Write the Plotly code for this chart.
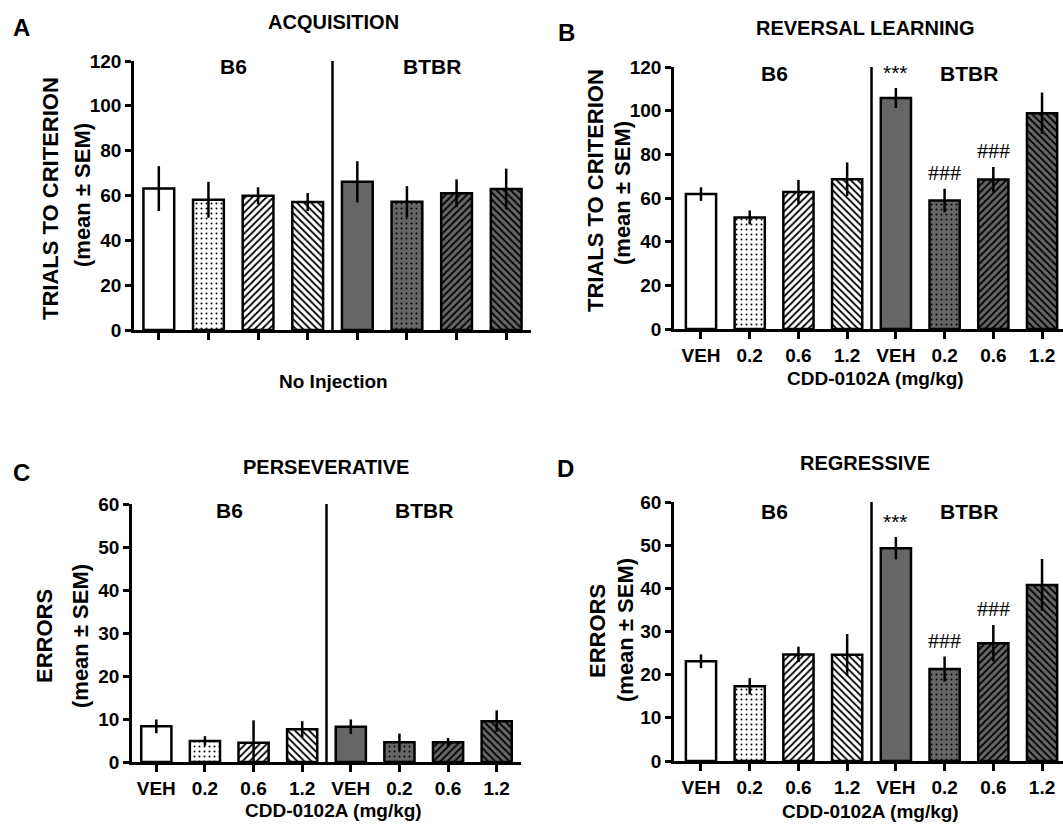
import plotly.graph_objects as go

W, H = 1063, 826
FONT = "Liberation Sans, Arial, sans-serif"

# ---------------- data ----------------
strains = ["B6", "BTBR"]
doses = ["VEH", "0.2", "0.6", "1.2"]
tick_labels = doses + doses

acq_mean = [63.1, 58.1, 59.9, 57.1, 66.1, 57.2, 61.0, 62.9]
acq_sem = [10.0, 8.0, 3.8, 4.0, 9.2, 7.0, 6.2, 9.1]

rev_mean = [61.8, 51.1, 62.8, 68.6, 105.8, 58.8, 68.5, 98.8]
rev_sem = [3.1, 3.2, 5.5, 7.7, 4.6, 5.4, 5.7, 9.5]

pers_mean = [8.3, 4.9, 4.5, 7.6, 8.2, 4.6, 4.6, 9.5]
pers_sem = [1.6, 1.1, 5.2, 1.9, 1.7, 2.0, 1.0, 2.5]

regr_mean = [23.1, 17.3, 24.7, 24.6, 49.3, 21.3, 27.3, 40.8]
regr_sem = [1.6, 1.9, 1.8, 4.8, 2.6, 2.9, 4.2, 6.0]

rev_marks = ["", "", "", "", "***", "###", "###", ""]
regr_marks = ["", "", "", "", "***", "###", "###", ""]

trials_ticks = [0, 20, 40, 60, 80, 100, 120]
errors_ticks = [0, 10, 20, 30, 40, 50, 60]

# ---------------- styling ----------------
shapes_pat = ["", ".", "/", "\\", "", ".", "/", "\\"]
WHITE, GREY = "#ffffff", "#666666"
bg = [WHITE] * 4 + [GREY] * 4
psize = [5, 5, 5, 5, 5, 5, 5, 5]
psol = [0.3, 0.12, 0.35, 0.35, 0.3, 0.12, 0.35, 0.35]


def px2x(px):
    return px / W


def px2y(py):
    return 1 - py / H


def b(t):
    return "<b>" + t + "</b>"


panels = [
    dict(name="A", title="ACQUISITION", mean=acq_mean, sem=acq_sem, marks=None,
         x=(134, 531), y=(61, 330), xr=[-0.5, 7.5], yr=[0, 120], yt=trials_ticks,
         ticklabels=False, ytitle=("TRIALS TO CRITERION", "(mean ± SEM)"),
         xtitle="No Injection", strain_y=117.5),
    dict(name="B", title="REVERSAL LEARNING", mean=rev_mean, sem=rev_sem, marks=rev_marks,
         x=(674, 1063), y=(67, 329), xr=[-0.554, 7.43], yr=[0, 120], yt=trials_ticks,
         ticklabels=True, ytitle=("TRIALS TO CRITERION", "(mean ± SEM)"),
         xtitle="CDD-0102A (mg/kg)", strain_y=117.2),
    dict(name="C", title="PERSEVERATIVE", mean=pers_mean, sem=pers_sem, marks=None,
         x=(132, 521), y=(504, 762), xr=[-0.5, 7.5], yr=[0, 60], yt=errors_ticks,
         ticklabels=True, ytitle=("ERRORS", "(mean ± SEM)"),
         xtitle="CDD-0102A (mg/kg)", strain_y=58.4),
    dict(name="D", title="REGRESSIVE", mean=regr_mean, sem=regr_sem, marks=regr_marks,
         x=(674, 1063), y=(502, 761), xr=[-0.554, 7.43], yr=[0, 60], yt=errors_ticks,
         ticklabels=True, ytitle=("ERRORS", "(mean ± SEM)"),
         xtitle="CDD-0102A (mg/kg)", strain_y=57.9),
]

letter_pos = {"A": (21, 27), "B": (566, 33), "C": (21, 472), "D": (565, 468)}
title_pos = {"A": (333, 22), "B": (865, 28), "C": (326, 467), "D": (865, 463)}
ytitle_pos = {"A": ((51, 199), (82, 195)), "B": ((596, 191), (622, 193)),
              "C": ((44, 636), (80, 636)), "D": ((597, 631), (625, 630))}
xtitle_pos = {"A": (333, 381), "B": (875, 378), "C": (333, 810), "D": (870, 811)}

fig = go.Figure()
annotations = []
shapes = []
xpos = list(range(8))

for i, p in enumerate(panels):
    k = "" if i == 0 else str(i + 1)
    xa, ya = "x" + k, "y" + k
    for j in xpos:
        pat = dict(shape=shapes_pat[j], bgcolor=bg[j], fgcolor="#000000",
                   size=psize[j], solidity=psol[j], fillmode="replace") if shapes_pat[j] else dict(shape="")
        fig.add_trace(go.Bar(
            x=[j], y=[p["mean"][j]], xaxis=xa, yaxis=ya, width=0.62,
            marker=dict(color=bg[j], line=dict(color="black", width=2.5), pattern=pat),
            error_y=dict(type="data", array=[p["sem"][j]], visible=True, color="black",
                         thickness=2.5, width=0),
            showlegend=False, hoverinfo="skip",
        ))
    fig.update_layout(**{
        "xaxis" + k: dict(domain=[px2x(p["x"][0]), px2x(p["x"][1])], range=p["xr"],
                          anchor=ya, showline=True, linecolor="black", linewidth=2.5,
                          ticks="outside", ticklen=7, tickwidth=2.5, tickcolor="black",
                          tickmode="array", tickvals=xpos,
                          ticktext=[b(t) for t in tick_labels] if p["ticklabels"] else [""] * 8,
                          showticklabels=p["ticklabels"], showgrid=False, zeroline=False,
                          automargin=False,
                          tickfont=dict(family=FONT, size=19, color="black"),
                          fixedrange=True),
        "yaxis" + k: dict(domain=[px2y(p["y"][1]), px2y(p["y"][0])], range=p["yr"],
                          anchor=xa, showline=True, linecolor="black", linewidth=2.5,
                          ticks="outside", ticklen=6, tickwidth=2.5, tickcolor="black",
                          tickmode="array", tickvals=p["yt"],
                          ticktext=[b(str(v)) for v in p["yt"]],
                          showgrid=False, zeroline=False, automargin=False,
                          tickfont=dict(family=FONT, size=19, color="black"),
                          fixedrange=True),
    })
    shapes.append(dict(type="line", xref=xa, yref=ya, x0=3.5, x1=3.5,
                       y0=p["yr"][0], y1=p["yr"][1], line=dict(color="black", width=2.5)))
    for sx, s in zip([1.5, 5.5], strains):
        annotations.append(dict(x=sx, y=p["strain_y"], xref=xa, yref=ya, text=b(s),
                                showarrow=False, xanchor="center", yanchor="middle",
                                font=dict(family=FONT, size=21, color="black")))
    if p["marks"]:
        for j, m in enumerate(p["marks"]):
            if m:
                is_hash = m.startswith("#")
                annotations.append(dict(x=j, y=p["mean"][j] + p["sem"][j], xref=xa, yref=ya,
                                        text=m, showarrow=False, xanchor="center",
                                        yanchor="bottom", yshift=2,
                                        font=dict(family="Liberation Serif, Times New Roman, serif" if is_hash else FONT,
                                                  size=22 if is_hash else 21,
                                                  color="black")))
    lx, ly = letter_pos[p["name"]]
    annotations.append(dict(x=px2x(lx), y=px2y(ly), xref="paper", yref="paper",
                            text=b(p["name"]), showarrow=False, xanchor="center", yanchor="middle",
                            font=dict(family=FONT, size=24, color="black")))
    tx, ty = title_pos[p["name"]]
    annotations.append(dict(x=px2x(tx), y=px2y(ty), xref="paper", yref="paper",
                            text=b(p["title"]), showarrow=False, xanchor="center", yanchor="middle",
                            font=dict(family=FONT, size=20, color="black")))
    for (yx, yy), line in zip(ytitle_pos[p["name"]], p["ytitle"]):
        annotations.append(dict(x=px2x(yx), y=px2y(yy), xref="paper", yref="paper",
                                text=b(line), showarrow=False, textangle=-90,
                                xanchor="center", yanchor="middle",
                                font=dict(family=FONT, size=22, color="black")))
    xx, xy = xtitle_pos[p["name"]]
    annotations.append(dict(x=px2x(xx), y=px2y(xy), xref="paper", yref="paper",
                            text=b(p["xtitle"]), showarrow=False, xanchor="center", yanchor="middle",
                            font=dict(family=FONT, size=19, color="black")))

fig.update_layout(
    template="none",
    width=W, height=H, margin=dict(l=0, r=0, t=0, b=0, pad=0, autoexpand=False),
    paper_bgcolor="white", plot_bgcolor="white",
    annotations=annotations, shapes=shapes, barmode="overlay",
    font=dict(family=FONT, color="black"), showlegend=False,
)

fig.write_html("out.html", config={"displayModeBar": False},
               post_script="document.body.style.margin='0px';")
